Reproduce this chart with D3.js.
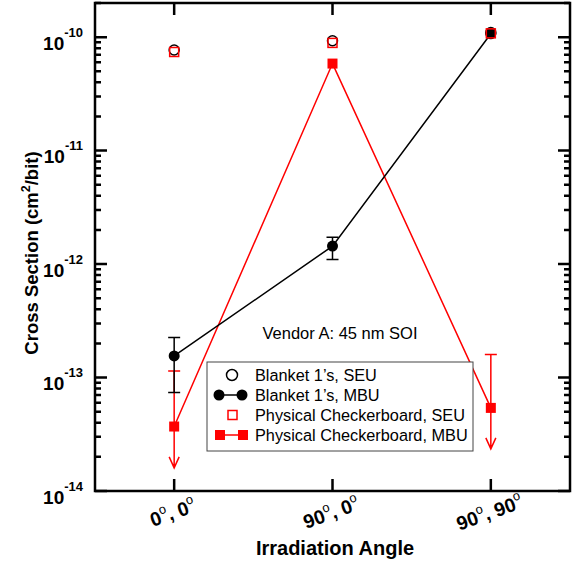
<!DOCTYPE html>
<html>
<head>
<meta charset="utf-8">
<script src="https://cdn.jsdelivr.net/npm/d3@7"></script>
<style>
  body { margin: 0; background: #fff; }
  svg { font-family: Arial, "Liberation Sans", sans-serif; }
</style>
</head>
<body>
<div id="chart"></div>
<script>
// categories (irradiation angle)
var categories = ["0,0", "90,0", "90,90"];
var catLabels = [["0", "0"], ["90", "0"], ["90", "90"]];

// Blanket 1's
var blanketSEU = [7.7e-11, 9.3e-11, 1.10e-10];
var blanketMBU = [1.55e-13, 1.44e-12, 1.07e-10];
var blanketMBULow = [7.4e-14, 1.1e-12, null];
var blanketMBUHigh = [2.25e-13, 1.72e-12, null];

// Physical checkerboard
var checkerSEU = [7.4e-11, 8.9e-11, 1.08e-10];
var checkerMBU = [3.7e-14, 5.85e-11, 5.4e-14];
var checkerMBUHigh = [1.14e-13, null, 1.6e-13];
var checkerMBUArrow = [1.6e-14, null, 2.35e-14]; // upper limit arrows

var yTicks = [1e-14, 1e-13, 1e-12, 1e-11, 1e-10];

var w = 577, h = 566;
var margin = {top: 3, right: 7, bottom: 75, left: 95};
var red = "#ff0000";

var svg = d3.select("#chart").append("svg")
    .attr("width", w)
    .attr("height", h);

var xScale = d3.scalePoint()
    .domain(categories)
    .range([margin.left, w - margin.right])
    .padding(0.5);

var yScale = d3.scaleLog()
    .domain([1e-14, 2e-10])
    .range([h - margin.bottom, margin.top]);

var x0 = margin.left, x1 = w - margin.right;
var y0 = margin.top, y1 = h - margin.bottom;

// minor ticks 2..9 for every decade
var minorTicks = [];
yTicks.forEach(function(t) {
    for (var k = 2; k <= 9; k++) {
        var v = t * k;
        if (v <= yScale.domain()[1]) minorTicks.push(v);
    }
});

var axes = svg.append("g").attr("stroke", "#000").attr("stroke-width", 2.5);

// left & right ticks (inward)
axes.selectAll(".ymaj").data(yTicks).enter().append("path")
    .attr("d", function(d) {
        var y = yScale(d);
        return "M" + x0 + "," + y + "h12M" + x1 + "," + y + "h-12";
    });
axes.selectAll(".ymin").data(minorTicks).enter().append("path")
    .attr("d", function(d) {
        var y = yScale(d);
        return "M" + x0 + "," + y + "h6M" + x1 + "," + y + "h-6";
    });
// top & bottom ticks
axes.selectAll(".xt").data(categories).enter().append("path")
    .attr("d", function(d) {
        var x = xScale(d);
        return "M" + x + "," + y1 + "v-12M" + x + "," + y0 + "v12";
    });

axes.append("rect")
    .attr("x", x0).attr("y", y0)
    .attr("width", x1 - x0).attr("height", y1 - y0)
    .attr("fill", "none");

// y tick labels 10^n
var yLab = svg.selectAll(".ylab").data(yTicks).enter().append("text")
    .attr("x", 83)
    .attr("y", function(d) { return yScale(d) + 12.5; })
    .attr("text-anchor", "end")
    .attr("font-weight", "bold")
    .attr("font-size", 19);
yLab.append("tspan").text("10");
yLab.append("tspan")
    .attr("dy", -13)
    .attr("font-size", 13)
    .text(function(d) { return Math.round(Math.log10(d)); });

// x tick labels
var xLab = svg.selectAll(".xlab").data(categories).enter().append("text")
    .attr("transform", function(d) {
        return "translate(" + (xScale(d) + 1) + ",519) rotate(-20)";
    })
    .attr("text-anchor", "middle")
    .attr("font-weight", "bold")
    .attr("font-size", 19.5);
xLab.each(function(d, i) {
    var t = d3.select(this);
    var p = catLabels[i];
    t.append("tspan").text(p[0]);
    t.append("tspan").attr("font-weight", "normal").attr("font-size", 13).attr("dy", -9).text("o");
    t.append("tspan").attr("dy", 9).text(", " + p[1]);
    t.append("tspan").attr("font-weight", "normal").attr("font-size", 13).attr("dy", -9).text("o");
});

// axis titles
svg.append("text")
    .attr("x", 335).attr("y", 555)
    .attr("text-anchor", "middle")
    .attr("font-weight", "bold")
    .attr("font-size", 20)
    .text("Irradiation Angle");

var yt = svg.append("text")
    .attr("transform", "translate(38,253) rotate(-90)")
    .attr("text-anchor", "middle")
    .attr("font-weight", "bold")
    .attr("font-size", 18.5);
yt.append("tspan").text("Cross Section (cm");
yt.append("tspan").attr("font-size", 12.5).attr("dy", -8).text("2");
yt.append("tspan").attr("dy", 8).text("/bit)");

// annotation
svg.append("text")
    .attr("x", 340).attr("y", 339)
    .attr("text-anchor", "middle")
    .attr("font-size", 16.5)
    .text("Vendor A: 45 nm SOI");

var idx = d3.range(categories.length);

// ---- lines ----
var line = d3.line()
    .x(function(i) { return xScale(categories[i]); });

svg.append("path")
    .attr("d", line.y(function(i) { return yScale(checkerMBU[i]); })(idx))
    .attr("fill", "none").attr("stroke", red).attr("stroke-width", 1.5);
svg.append("path")
    .attr("d", line.y(function(i) { return yScale(blanketMBU[i]); })(idx))
    .attr("fill", "none").attr("stroke", "#000").attr("stroke-width", 1.5);

// ---- error bars ----
var capW = 6;
// checkerboard MBU: cap on top, arrow down
idx.filter(function(i) { return checkerMBUHigh[i] != null; }).forEach(function(i) {
    var x = xScale(categories[i]);
    var yh = yScale(checkerMBUHigh[i]);
    var ya = yScale(checkerMBUArrow[i]);
    svg.append("path")
        .attr("d", "M" + (x - capW) + "," + yh + "h" + (2 * capW) +
              "M" + x + "," + yh + "V" + ya +
              "M" + (x - 5) + "," + (ya - 11) + "L" + x + "," + ya + "L" + (x + 5) + "," + (ya - 11))
        .attr("fill", "none").attr("stroke", red).attr("stroke-width", 1.5);
});
// blanket MBU: symmetric bars
idx.filter(function(i) { return blanketMBUHigh[i] != null; }).forEach(function(i) {
    var x = xScale(categories[i]);
    var yh = yScale(blanketMBUHigh[i]);
    var yl = yScale(blanketMBULow[i]);
    svg.append("path")
        .attr("d", "M" + (x - capW) + "," + yh + "h" + (2 * capW) +
              "M" + (x - capW) + "," + yl + "h" + (2 * capW) +
              "M" + x + "," + yh + "V" + yl)
        .attr("fill", "none").attr("stroke", "#000").attr("stroke-width", 1.5);
});

// ---- markers ----
svg.selectAll(".bseu").data(idx).enter().append("circle")
    .attr("cx", function(i) { return xScale(categories[i]); })
    .attr("cy", function(i) { return yScale(blanketSEU[i]); })
    .attr("r", 5)
    .attr("fill", "none").attr("stroke", "#000").attr("stroke-width", 1.5);

svg.selectAll(".bmbu").data(idx).enter().append("circle")
    .attr("cx", function(i) { return xScale(categories[i]); })
    .attr("cy", function(i) { return yScale(blanketMBU[i]); })
    .attr("r", 5.5)
    .attr("fill", "#000");

svg.selectAll(".cseu").data(idx).enter().append("rect")
    .attr("x", function(i) { return xScale(categories[i]) - 4.5; })
    .attr("y", function(i) { return yScale(checkerSEU[i]) - 4.5; })
    .attr("width", 9).attr("height", 9)
    .attr("fill", "none").attr("stroke", red).attr("stroke-width", 1.5);

svg.selectAll(".cmbu").data(idx).enter().append("rect")
    .attr("x", function(i) { return xScale(categories[i]) - 5; })
    .attr("y", function(i) { return yScale(checkerMBU[i]) - 5; })
    .attr("width", 10).attr("height", 10)
    .attr("fill", red);

// ---- legend ----
var lg = svg.append("g").attr("transform", "translate(207,362)");
lg.append("rect")
    .attr("width", 266).attr("height", 89)
    .attr("fill", "#fff").attr("stroke", "#444").attr("stroke-width", 1);

var legendItems = ["Blanket 1\u2019s, SEU", "Blanket 1\u2019s, MBU",
                   "Physical Checkerboard, SEU", "Physical Checkerboard, MBU"];
var rowY = [13, 33, 53, 73];

lg.selectAll(".lt").data(legendItems).enter().append("text")
    .attr("x", 48)
    .attr("y", function(d, i) { return rowY[i] + 6; })
    .attr("font-size", 16.3)
    .text(function(d) { return d; });

lg.append("circle").attr("cx", 25).attr("cy", rowY[0]).attr("r", 5.5)
    .attr("fill", "none").attr("stroke", "#000").attr("stroke-width", 1.5);
lg.append("line").attr("x1", 12).attr("x2", 35).attr("y1", rowY[1]).attr("y2", rowY[1])
    .attr("stroke", "#000").attr("stroke-width", 1.5);
lg.append("circle").attr("cx", 12).attr("cy", rowY[1]).attr("r", 5.5).attr("fill", "#000");
lg.append("circle").attr("cx", 35).attr("cy", rowY[1]).attr("r", 5.5).attr("fill", "#000");
lg.append("rect").attr("x", 21).attr("y", rowY[2] - 4.5).attr("width", 9).attr("height", 9)
    .attr("fill", "none").attr("stroke", red).attr("stroke-width", 1.5);
lg.append("line").attr("x1", 12).attr("x2", 36).attr("y1", rowY[3]).attr("y2", rowY[3])
    .attr("stroke", red).attr("stroke-width", 1.5);
lg.append("rect").attr("x", 8).attr("y", rowY[3] - 5).attr("width", 10).attr("height", 10).attr("fill", red);
lg.append("rect").attr("x", 31).attr("y", rowY[3] - 5).attr("width", 10).attr("height", 10).attr("fill", red);
</script>
</body>
</html>
